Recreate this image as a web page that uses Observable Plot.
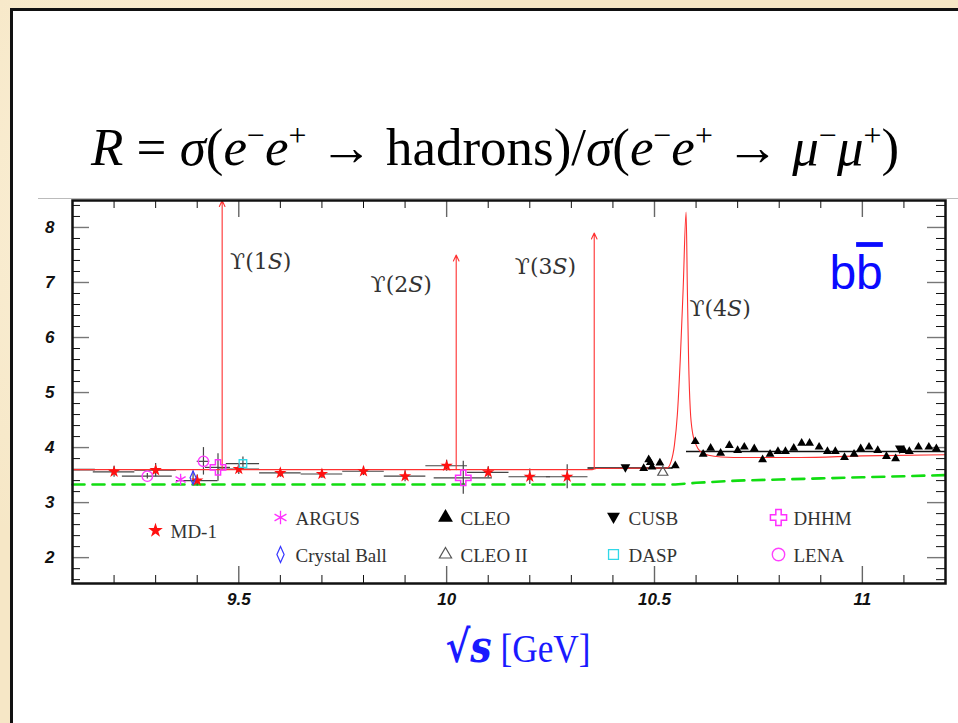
<!DOCTYPE html>
<html>
<head>
<meta charset="utf-8">
<script src="https://cdn.jsdelivr.net/npm/d3@7"></script>
<script src="https://cdn.jsdelivr.net/npm/@observablehq/plot@0.6"></script>
<style>
html,body{margin:0;padding:0;width:958px;height:723px;overflow:hidden;}
body{position:relative;background:#f6e7c6;background-image:radial-gradient(circle at 20% 30%, #fbf0d8 0, transparent 40%),radial-gradient(circle at 80% 70%, #f3e0b8 0, transparent 45%);}
#panel{position:absolute;left:10px;top:8px;width:960px;height:730px;background:#fff;border-left:3px solid #111;border-top:3px solid #111;}
#title{position:absolute;left:0;top:116px;width:990px;text-align:center;font-family:"Liberation Serif",serif;font-size:53px;line-height:62px;color:#000;white-space:nowrap;}
#title sup{font-size:0.6em;vertical-align:0.6em;line-height:0;}
#rule{position:absolute;left:38px;top:198px;width:930px;height:1px;background:#bbb;}
#chart{position:absolute;left:0;top:180px;}
#xlabel{position:absolute;left:338px;top:622px;width:360px;text-align:center;font-family:"Liberation Serif",serif;font-size:41px;line-height:50px;color:#1a1aff;transform:scaleX(0.86);transform-origin:center;white-space:nowrap;}
</style>
</head>
<body>
<div id="panel"></div>
<div id="rule"></div>
<div id="title"><i>R</i> = <i>σ</i>(<i>e</i><sup>−</sup><i>e</i><sup>+</sup> → hadrons)/<i>σ</i>(<i>e</i><sup>−</sup><i>e</i><sup>+</sup> → <i>μ</i><sup>−</sup><i>μ</i><sup>+</sup>)</div>
<div id="chart"></div>
<div id="xlabel"><span style="font-family:'DejaVu Serif';font-weight:bold;font-size:44px">√<i>s</i></span> [GeV]</div>
<script>
// ---------- axis ticks ----------
const xTicksMajor = [9.5, 10, 10.5, 11];
const yTicksMajor = [2, 3, 4, 5, 6, 7, 8];

// ---------- MD-1 ----------
const md1X   = [9.2, 9.3, 9.4, 9.5, 9.6, 9.7, 9.8, 9.9, 10.0, 10.1, 10.2, 10.29];
const md1R   = [3.56, 3.59, 3.40, 3.61, 3.54, 3.52, 3.57, 3.48, 3.67, 3.55, 3.47, 3.47];
const md1Err = [0.10, 0.12, 0.10, 0.10, 0.08, 0.08, 0.08, 0.10, 0.10, 0.10, 0.14, 0.22];
const md1Half = [0.05, 0.05, 0.05, 0.05, 0.05, 0.05, 0.05, 0.05, 0.05, 0.05, 0.05, 0.05];

// ---------- other experiments ----------
const argusX = [9.36],  argusR = [3.42], argusErr = [0.05];
const cbX = [9.39],     cbR = [3.45],    cbErr = [0.12];
const lenaX = [9.28, 9.415], lenaR = [3.48, 3.75], lenaErr = [0.05, 0.25], lenaHalf = [0.06, 0.015];
const dhhmX = [9.45, 10.04], dhhmR = [3.64, 3.45], dhhmErr = [0.25, 0.30], dhhmHalf = [0.03, 0.07];
const daspX = [9.51],   daspR = [3.71],  daspErr = [0.12], daspHalf = [0.04];
const cusbX = [10.43, 11.09], cusbR = [3.63, 3.97];
const cleo2X = [10.52], cleo2R = [3.55];
const cleoX = [10.474, 10.486, 10.49, 10.494, 10.513, 10.55, 10.598, 10.617, 10.635, 10.659, 10.68, 10.70, 10.716, 10.74, 10.76, 10.778, 10.797, 10.815, 10.835, 10.854, 10.873, 10.896, 10.916, 10.935, 10.957, 10.98, 10.996, 11.016, 11.037, 11.058, 11.08, 11.10, 11.113, 11.135, 11.16, 11.178];
const cleoR = [3.62, 3.78, 3.73, 3.65, 3.72, 3.67, 4.11, 3.88, 3.99, 3.90, 4.04, 3.95, 4.01, 3.98, 3.78, 3.88, 3.93, 3.93, 3.99, 4.08, 4.08, 4.01, 3.93, 3.93, 3.82, 3.88, 3.98, 4.01, 3.95, 3.84, 3.80, 3.95, 3.93, 4.01, 4.01, 3.98];

// ---------- averaged levels (black) ----------
const avgX1 = [9.10, 10.34, 10.577];
const avgX2 = [9.155, 10.545, 11.20];
const avgR  = [3.60, 3.63, 3.93];

// ---------- red theory curve ----------
const redX = [9.10, 10.35, 10.36, 10.53, 10.540, 10.548, 10.555, 10.562, 10.569, 10.576, 10.579, 10.582, 10.586, 10.592, 10.60, 10.61, 10.63, 10.66, 10.72, 10.85, 11.0, 11.2];
const redR = [3.60, 3.60, 3.62, 3.63, 3.75, 4.05, 4.6, 5.6, 6.9, 8.28, 6.9, 5.6, 4.7, 4.25, 4.05, 3.93, 3.86, 3.83, 3.82, 3.82, 3.85, 3.87];

// narrow resonances drawn as arrows
const upsX   = [9.460, 10.023, 10.355];
const upsBase = [3.60, 3.60, 3.62];
const upsTop = [8.49, 7.50, 7.90];

// ---------- green dashed (continuum) ----------
const greenX = [9.10, 10.55, 10.60, 10.70, 10.80, 10.90, 11.00, 11.10, 11.20];
const greenR = [3.33, 3.33, 3.36, 3.40, 3.42, 3.44, 3.46, 3.48, 3.50];

// ---------- annotations ----------
const upsNames = ["1", "2", "3", "4"];
const upsLabelX = [9.479, 9.817, 10.164, 10.584];
const upsLabelR = [7.37, 6.95, 7.29, 6.52];

const legendNames = ["MD-1", "ARGUS", "Crystal Ball", "CLEO", "CLEO II", "CUSB", "DASP", "DHHM", "LENA"];

// ---------- symbols ----------
const downTri = {draw(ctx, size) { const r = Math.sqrt(size / Math.PI) * 1.15; ctx.moveTo(0, r); ctx.lineTo(-r, -r * 0.75); ctx.lineTo(r, -r * 0.75); ctx.closePath(); }};
const thinDiamond = {draw(ctx, size) { const r = Math.sqrt(size / Math.PI); ctx.moveTo(0, -r * 1.35); ctx.lineTo(r * 0.6, 0); ctx.lineTo(0, r * 1.35); ctx.lineTo(-r * 0.6, 0); ctx.closePath(); }};

const styles = {
  "MD-1":        {symbol: "star", fill: "#ff1010", stroke: "none", r: 3.9, legR: 4.6},
  "ARGUS":       {symbol: "asterisk", fill: "none", stroke: "#ff30ff", r: 5.5, legR: 6.5, strokeWidth: 1.3},
  "Crystal Ball":{symbol: thinDiamond, fill: "none", stroke: "#3838ff", r: 5, legR: 6, strokeWidth: 1.2},
  "CLEO":        {symbol: "triangle", fill: "#000", stroke: "none", r: 3.3, legR: 5.5},
  "CLEO II":     {symbol: "triangle2", fill: "none", stroke: "#555", r: 4.8, legR: 5.8, strokeWidth: 1.2},
  "CUSB":        {symbol: downTri, fill: "#000", stroke: "none", r: 4.2, legR: 5.6},
  "DASP":        {symbol: "square2", fill: "none", stroke: "#30d8e8", r: 4.8, legR: 6.3, strokeWidth: 1.3},
  "DHHM":        {symbol: "cross", fill: "none", stroke: "#ff30ff", r: 6.5, legR: 6.8, strokeWidth: 1.5},
  "LENA":        {symbol: "circle", fill: "none", stroke: "#ff40ff", r: 5.2, legR: 6.2, strokeWidth: 1.4}
};

// ---------- build tables ----------
const zipPts = (xs, rs, errs, halfs, name) => xs.map((x, i) => ({x, r: rs[i], err: errs ? errs[i] : 0, half: halfs ? halfs[i] : 0, name}));
const series = {
  "MD-1": zipPts(md1X, md1R, md1Err, md1Half, "MD-1"),
  "ARGUS": zipPts(argusX, argusR, argusErr, null, "ARGUS"),
  "Crystal Ball": zipPts(cbX, cbR, cbErr, null, "Crystal Ball"),
  "LENA": zipPts(lenaX, lenaR, lenaErr, lenaHalf, "LENA"),
  "DHHM": zipPts(dhhmX, dhhmR, dhhmErr, dhhmHalf, "DHHM"),
  "DASP": zipPts(daspX, daspR, daspErr, daspHalf, "DASP"),
  "CUSB": zipPts(cusbX, cusbR, null, null, "CUSB"),
  "CLEO II": zipPts(cleo2X, cleo2R, null, null, "CLEO II"),
  "CLEO": zipPts(cleoX, cleoR, null, null, "CLEO")
};
const allPts = Object.values(series).flat();
const vErr = allPts.filter(d => d.err > 0);
const hErr = allPts.filter(d => d.half > 0);
const avg = avgX1.map((x1, i) => ({x1, x2: avgX2[i], r: avgR[i]}));
const red = redX.map((x, i) => ({x, r: redR[i]}));
const green = greenX.map((x, i) => ({x, r: greenR[i]}));
const ups = upsX.map((x, i) => ({x, base: upsBase[i], top: upsTop[i]}));
const upsLabels = upsNames.map((n, i) => ({n, x: upsLabelX[i], r: upsLabelR[i]}));

// ---------- layout ----------
const W = 958, H = 440, mL = 72, mR = 13, mT = 20, mB = 37;
const innerH = H - mT - mB, innerW = W - mL - mR;
const xMinor = d3.range(91, 113).map(v => v / 10).filter(v => !xTicksMajor.includes(v));
const yMinor = d3.range(8, 43).map(v => v / 5).filter(v => !yTicksMajor.includes(v));

// legend layout (pixel offsets inside the frame)
const legCol = [83, 208, 373, 541, 706];
const legRow = [317, 354];
const legPos = [[0, 330], [1, 0], [1, 1], [2, 0], [2, 1], [3, 0], [3, 1], [4, 0], [4, 1]];

const legendMarks = legendNames.flatMap((name, i) => {
  const [c, rw] = legPos[i];
  const dx = legCol[c];
  const dy = i === 0 ? rw : legRow[rw];
  const s = styles[name];
  return [
    Plot.dot([name], {frameAnchor: "top-left", dx, dy, symbol: s.symbol, fill: s.fill, stroke: s.stroke, r: s.legR, strokeWidth: s.strokeWidth ?? 1}),
    Plot.text([name], {frameAnchor: "top-left", dx: dx + 15, dy: dy + 1, text: d => d, textAnchor: "start", lineAnchor: "middle", fontFamily: "Liberation Serif", fontSize: 19, fill: "#333"})
  ];
});

const dotMarks = Object.entries(series).map(([name, data]) => {
  const s = styles[name];
  return Plot.dot(data, {x: "x", y: "r", symbol: s.symbol, fill: s.fill, stroke: s.stroke, r: s.r, strokeWidth: s.strokeWidth ?? 1});
});

const plot = Plot.plot({
  width: W, height: H,
  marginLeft: mL, marginRight: mR, marginTop: mT, marginBottom: mB,
  style: {background: "transparent", overflow: "visible"},
  x: {domain: [9.1, 11.2]},
  y: {domain: [1.53, 8.49]},
  marks: [
    // inward ticks
    Plot.ruleX(xMinor, {x: d => d, insetTop: innerH - 8, stroke: "#111", strokeWidth: 1}),
    Plot.ruleX(xMinor, {x: d => d, insetBottom: innerH - 8, stroke: "#111", strokeWidth: 1}),
    Plot.ruleX(xTicksMajor, {x: d => d, insetTop: innerH - 17, stroke: "#666", strokeWidth: 1.4}),
    Plot.ruleX(xTicksMajor, {x: d => d, insetBottom: innerH - 17, stroke: "#666", strokeWidth: 1.4}),
    Plot.ruleY(yMinor, {y: d => d, insetRight: innerW - 8, stroke: "#111", strokeWidth: 1}),
    Plot.ruleY(yMinor, {y: d => d, insetLeft: innerW - 9, stroke: "#111", strokeWidth: 1}),
    Plot.ruleY(yTicksMajor, {y: d => d, insetRight: innerW - 17, stroke: "#777", strokeWidth: 1.4}),
    Plot.ruleY(yTicksMajor, {y: d => d, insetLeft: innerW - 18, stroke: "#777", strokeWidth: 1.4}),
    Plot.axisX(xTicksMajor, {tickSize: 0, tickPadding: 9, tickFormat: d => String(d), fontSize: 17, fontWeight: "bold", fontStyle: "italic", fontFamily: "Liberation Sans", fill: "#111", label: null}),
    Plot.axisY(yTicksMajor, {tickSize: 0, tickPadding: 18, tickFormat: d => String(d), fontSize: 17, fontWeight: "bold", fontStyle: "italic", fontFamily: "Liberation Sans", fill: "#111", label: null}),
    // green continuum
    Plot.line(green, {x: "x", y: "r", stroke: "#11dd11", strokeWidth: 2.6, strokeDasharray: "12,8"}),
    // error bars
    Plot.ruleY(hErr, {y: "r", x1: d => d.x - d.half, x2: d => d.x + d.half, stroke: "#444", strokeWidth: 1.2}),
    Plot.ruleX(vErr, {x: "x", y1: d => d.r - d.err, y2: d => d.r + d.err, stroke: "#444", strokeWidth: 1.2}),
    Plot.ruleY(avg, {y: "r", x1: "x1", x2: "x2", stroke: "#111", strokeWidth: 1.6}),
    // red theory
    Plot.line(red, {x: "x", y: "r", stroke: "#ff3030", strokeWidth: 1.1, curve: "monotone-x"}),
    Plot.arrow(ups, {x1: "x", y1: "base", x2: "x", y2: "top", stroke: "#ff3030", strokeWidth: 1.1, headLength: 9, headAngle: 50}),
    ...dotMarks,
    Plot.text(upsLabels, {x: "x", y: "r", text: d => "ϒ(" + d.n + "S)", textAnchor: "start", fontFamily: "DejaVu Serif", fontSize: 22, fill: "#333", className: "upslabel"}),
    Plot.text(["bb"], {x: () => 10.985, y: () => 6.88, text: d => d, textAnchor: "middle", lineAnchor: "bottom", fontFamily: "Liberation Sans", fontSize: 48, fill: "#0a0aff", className: "bblabel"}),
    ...legendMarks,
    Plot.frame({stroke: "#111", strokeWidth: 2.5})
  ]
});

document.getElementById("chart").appendChild(plot);

// italic S in the Upsilon labels
d3.select(plot).selectAll(".upslabel text").each(function() {
  const t = this.textContent;
  const m = t.match(/^ϒ\((\d)S\)$/);
  if (m) {
    const el = d3.select(this).text("");
    el.append("tspan").text("ϒ(" + m[1]);
    el.append("tspan").attr("font-style", "italic").text("S");
    el.append("tspan").text(")");
  }
});
// anti-b overline
d3.select(plot).selectAll(".bblabel text").each(function() {
  const el = d3.select(this).text("");
  el.append("tspan").text("b");
  el.append("tspan").attr("text-decoration", "overline").text("b");
});
</script>
</body>
</html>
